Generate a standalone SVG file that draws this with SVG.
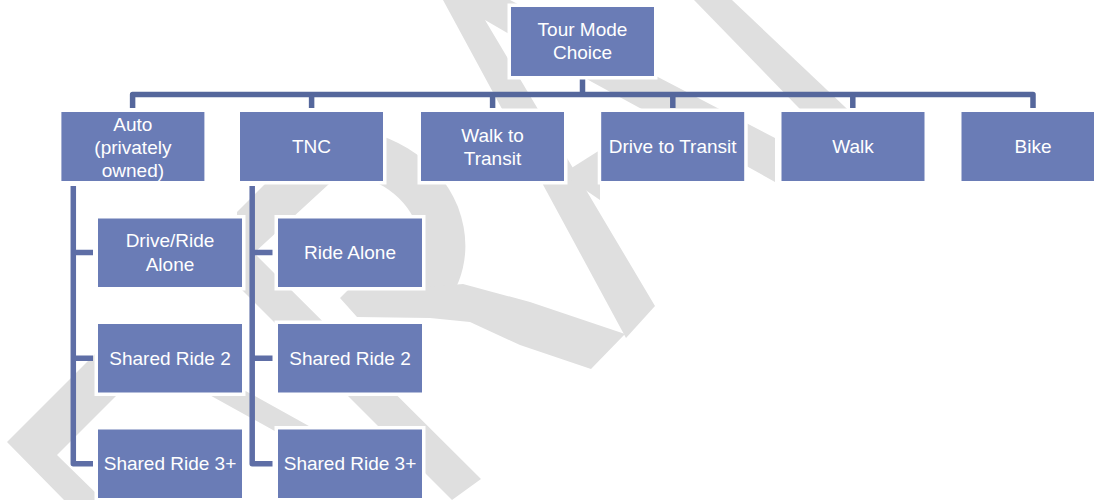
<svg xmlns="http://www.w3.org/2000/svg" width="1094" height="500" viewBox="0 0 1094 500">
<style>
.wm{fill:#dfdfdf;stroke:none}
.wms{fill:none;stroke:#dfdfdf}
.box{fill:#6a7cb6;stroke:#ffffff;stroke-width:7;paint-order:stroke}
.lbl{font-family:"Liberation Sans",Arial,sans-serif;font-size:19px;fill:#ffffff;text-anchor:middle}
.con{fill:none;stroke:#55679c;stroke-width:5.5;stroke-linejoin:round}
.con2{fill:none;stroke:#5e6ea6;stroke-width:5.5;stroke-linejoin:round}
</style>
<rect width="1094" height="500" fill="#ffffff"/>
<g id="watermark">
<polygon class="wm" points="443,0 510,0 775,138 775,182 750,168 592,82 485,20 655,306 626,338"/>
<polygon class="wm" points="562,174 600,150 600,200"/>
<polygon class="wm" points="694,0 732,0 880,140 830,140"/>
<polygon class="wm" points="7,442 125,324 406,480 363,480 150,362 57,455 103,500 64,500"/>
<polygon class="wm" points="237,290 237,212 300,149 367,149 254,253 481,479 452,500 240,288"/>
<path class="wms" stroke-width="45" d="M330,150 C380,150 420,175 437,215 C450,250 440,280 420,300"/>
<polygon class="wm" points="350,288 440,286 463,284 530,302 625,334 591,369 520,345 470,322 430,318 357,317 340,298"/>
</g>
<g id="connectors">
<path class="con" d="M582.5,77 V94.5"/>
<path class="con" d="M132.6,108 V94.5 H1033 V108"/>
<path class="con" d="M311.6,94.5 V108 M492.6,94.5 V108 M672.8,94.5 V108 M852.8,94.5 V108"/>
<path class="con2" d="M73.3,186 V463.7 H93 M73.3,252.5 H93 M73.3,358.3 H93"/>
<path class="con2" d="M252.2,186 V463.7 H272.5 M252.2,252.5 H272.5 M252.2,358.3 H272.5"/>
</g>
<g id="tour">
<rect class="box" x="511" y="7" width="143" height="69"/>
<text class="lbl" x="582.5" y="35.5">Tour Mode</text>
<text class="lbl" x="582.5" y="59">Choice</text>
</g>
<g id="auto">
<rect class="box" x="61.4" y="112" width="143" height="69"/>
<text class="lbl" x="132.9" y="130.5">Auto</text>
<text class="lbl" x="132.9" y="153.5">(privately</text>
<text class="lbl" x="132.9" y="176.5">owned)</text>
</g>
<g id="tnc">
<rect class="box" x="240" y="112" width="143" height="69"/>
<text class="lbl" x="311.5" y="153">TNC</text>
</g>
<g id="walk-transit">
<rect class="box" x="421" y="112" width="143" height="69"/>
<text class="lbl" x="492.5" y="141.5">Walk to</text>
<text class="lbl" x="492.5" y="164.5">Transit</text>
</g>
<g id="drive-transit">
<rect class="box" x="601.2" y="112" width="143" height="69"/>
<text class="lbl" x="672.7" y="153">Drive to Transit</text>
</g>
<g id="walk">
<rect class="box" x="781.5" y="112" width="143" height="69"/>
<text class="lbl" x="853" y="153">Walk</text>
</g>
<g id="bike">
<rect class="box" x="961.5" y="112" width="143" height="69"/>
<text class="lbl" x="1033" y="153">Bike</text>
</g>
<g id="auto-alone">
<rect class="box" x="98" y="218.5" width="144" height="68.5"/>
<text class="lbl" x="170" y="247">Drive/Ride</text>
<text class="lbl" x="170" y="270.5">Alone</text>
</g>
<g id="auto-sr2">
<rect class="box" x="98" y="324" width="144" height="68.5"/>
<text class="lbl" x="170" y="364.5">Shared Ride 2</text>
</g>
<g id="auto-sr3">
<rect class="box" x="98" y="429.5" width="144" height="68.5"/>
<text class="lbl" x="170" y="470">Shared Ride 3+</text>
</g>
<g id="tnc-alone">
<rect class="box" x="278" y="218.5" width="144" height="68.5"/>
<text class="lbl" x="350" y="259">Ride Alone</text>
</g>
<g id="tnc-sr2">
<rect class="box" x="278" y="324" width="144" height="68.5"/>
<text class="lbl" x="350" y="364.5">Shared Ride 2</text>
</g>
<g id="tnc-sr3">
<rect class="box" x="278" y="429.5" width="144" height="68.5"/>
<text class="lbl" x="350" y="470">Shared Ride 3+</text>
</g>
</svg>
